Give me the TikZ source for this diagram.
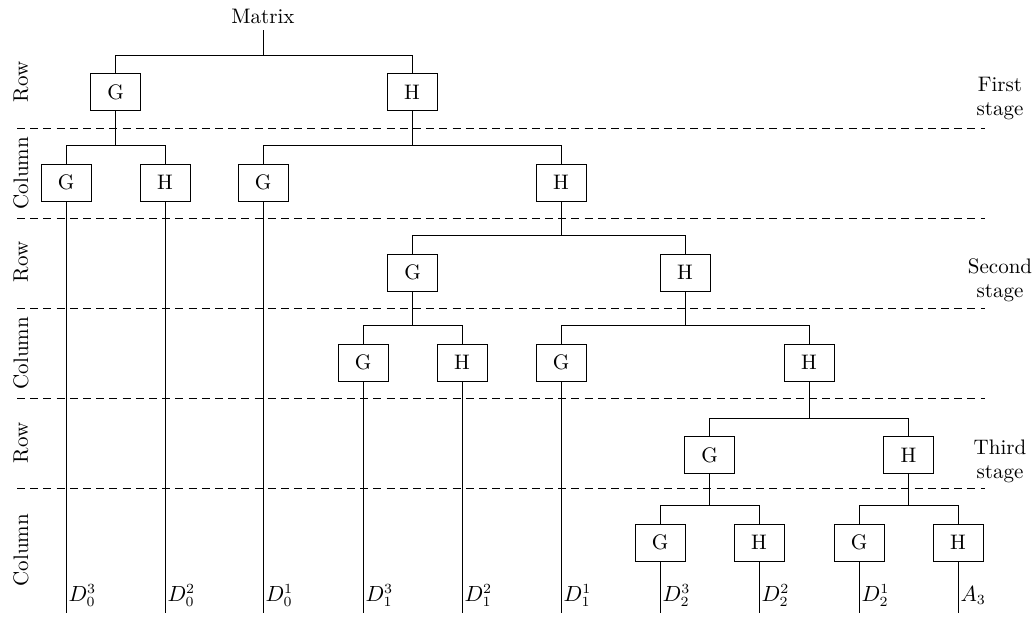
\documentclass[tikz,border=0pt]{standalone}
\usepackage{fontspec}
\usetikzlibrary{calc}
\begin{document}
\begin{tikzpicture}[x=0.5pt,y=-0.5pt, line width=0.5pt,
  font=\fontsize{10.5}{12.5}\selectfont,
  box/.style={draw, minimum width=25pt, minimum height=18.5pt, inner sep=0pt},
  sepline/.style={dash pattern=on 4pt off 2.6pt},
  side/.style={rotate=90},
  stagelab/.style={align=center, font=\fontsize{10.5}{12}\selectfont},
  leaf/.style={anchor=base west, inner sep=1pt}]
\useasboundingbox (0,0) rectangle (1036,617);

% dashed stage separators
\foreach \y in {128,218,308,398,488} \draw[sepline] (17,\y) -- (985,\y);

% side labels
\node[side] (lr1) at (21,82) {Row};
\node[side] (lc1) at (21,173) {Column};
\node[side] (lr2) at (21,262) {Row};
\node[side] (lc2) at (21,353) {Column};
\node[side] (lr3) at (21,443) {Row};
\node[side] (lc3) at (21,550) {Column};

% stage labels
\node[stagelab] (st1) at (1000,99) {First\\stage};
\node[stagelab] (st2) at (1000,280) {Second\\stage};
\node[stagelab] (st3) at (1000,461) {Third\\stage};

% tree
\node[anchor=base] (mat) at (263,23) {Matrix};
\node[box] (r1g) at (115.5,92) {G};
\node[box] (r1h) at (412,92) {H};
\node[box] (c1gg) at (66,182.5) {G};
\node[box] (c1gh) at (165,182.5) {H};
\node[box] (c1hg) at (263,182.5) {G};
\node[box] (c1hh) at (561,182.5) {H};
\node[box] (r2g) at (412.5,272.5) {G};
\node[box] (r2h) at (685,272.5) {H};
\node[box] (c2gg) at (363,362.5) {G};
\node[box] (c2gh) at (462,362.5) {H};
\node[box] (c2hg) at (561,362.5) {G};
\node[box] (c2hh) at (809,362.5) {H};
\node[box] (r3g) at (709.5,455) {G};
\node[box] (r3h) at (908.5,455) {H};
\node[box] (c3gg) at (660,542.5) {G};
\node[box] (c3gh) at (759,542.5) {H};
\node[box] (c3hg) at (859,542.5) {G};
\node[box] (c3hh) at (958,542.5) {H};

% splits
\draw (r1g.north) -- ++(0,-18) coordinate (s0) -| (r1h.north);
\draw (mat.south) -- (mat.south |- s0);
\draw (c1gg.north) -- ++(0,-18) coordinate (s1) -| (c1gh.north);
\draw (r1g.south) -- (r1g.south |- s1);
\draw (c1hg.north) -- ++(0,-18) coordinate (s2) -| (c1hh.north);
\draw (r1h.south) -- (r1h.south |- s2);
\draw (r2g.north) -- ++(0,-18) coordinate (s3) -| (r2h.north);
\draw (c1hh.south) -- (c1hh.south |- s3);
\draw (c2gg.north) -- ++(0,-18) coordinate (s4) -| (c2gh.north);
\draw (r2g.south) -- (r2g.south |- s4);
\draw (c2hg.north) -- ++(0,-18) coordinate (s5) -| (c2hh.north);
\draw (r2h.south) -- (r2h.south |- s5);
\draw (r3g.north) -- ++(0,-18) coordinate (s6) -| (r3h.north);
\draw (c2hh.south) -- (c2hh.south |- s6);
\draw (c3gg.north) -- ++(0,-18) coordinate (s7) -| (c3gh.north);
\draw (r3g.south) -- (r3g.south |- s7);
\draw (c3hg.north) -- ++(0,-18) coordinate (s8) -| (c3hh.north);
\draw (r3h.south) -- (r3h.south |- s8);

% leaves
\coordinate (bot) at (0,613);
\foreach \n/\t [count=\i] in {c1gg/D_0^3, c1gh/D_0^2, c1hg/D_0^1, c2gg/D_1^3, c2gh/D_1^2, c2hg/D_1^1, c3gg/D_2^3, c3gh/D_2^2, c3hg/D_2^1, c3hh/A_3} {
  \draw (\n.south) -- (\n.south |- bot) coordinate (e\i);
  \node[leaf] (t\i) at ($(e\i)+(0,-12)$) {$\t$};
}
\end{tikzpicture}
\end{document}
